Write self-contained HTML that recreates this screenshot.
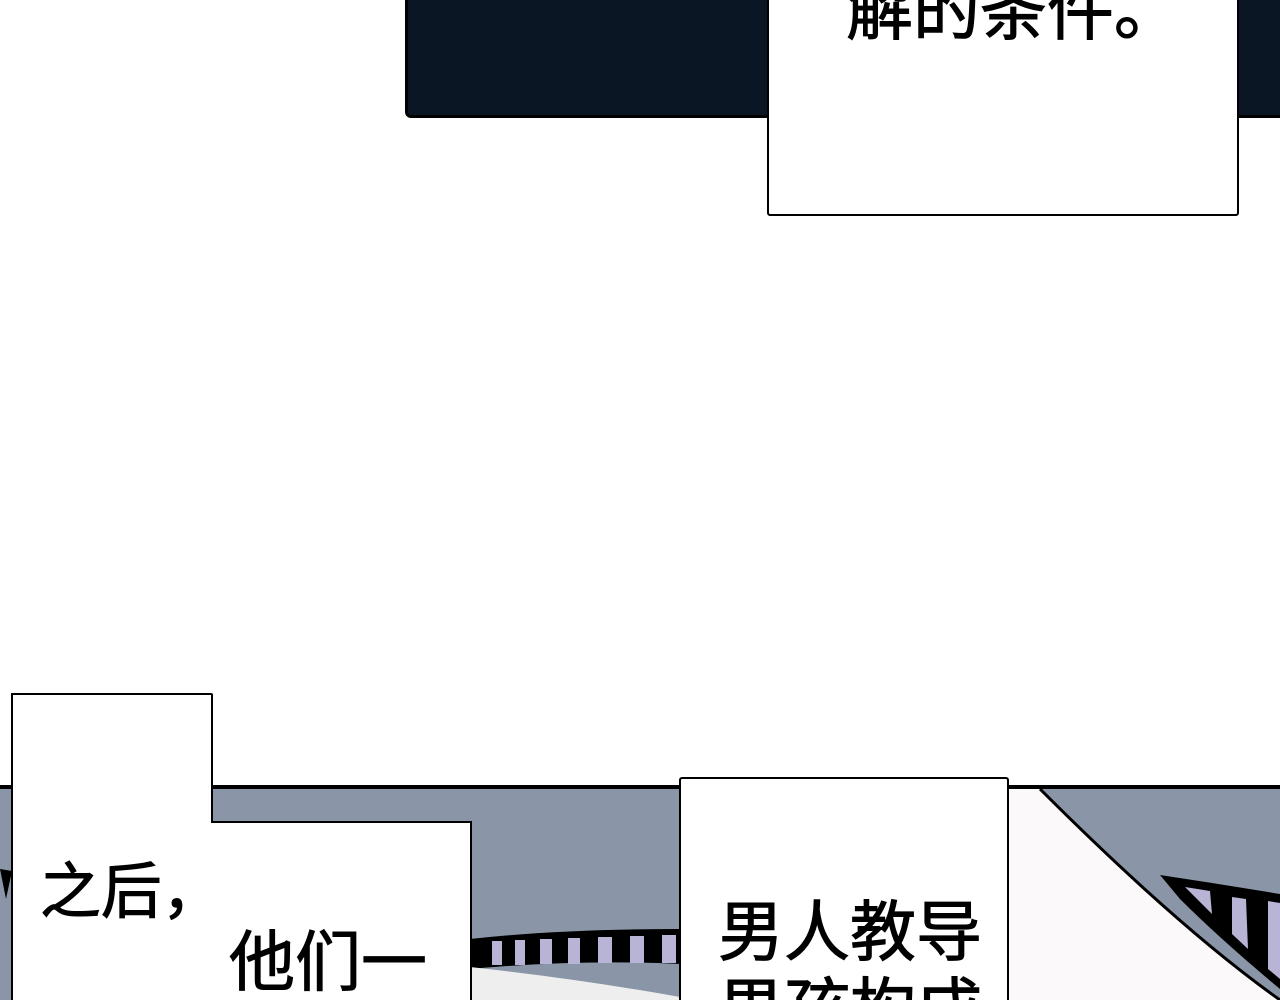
<!DOCTYPE html>
<html><head><meta charset="utf-8"><style>
html,body{margin:0;padding:0;width:1280px;height:1000px;overflow:hidden;background:#fff;position:relative}
.t{position:absolute;font-family:"Liberation Sans","Noto Sans CJK SC",sans-serif;color:#000;white-space:nowrap;line-height:1;-webkit-text-stroke:1px #000}
.box{position:absolute;background:#fff;border:2px solid #000;box-sizing:border-box}
</style></head><body>
<div style="position:absolute;left:405px;top:-10px;width:880px;height:128px;background:#0b1624;border:3px solid #000;border-radius:6px;box-sizing:border-box"></div>
<div class="box" style="left:767px;top:-10px;width:472px;height:226px;border-radius:3px"></div>
<div class="t" style="left:846px;top:-22px;font-size:62px;transform:scale(1.08,1.1);transform-origin:top left">解的条件。</div>

<div style="position:absolute;left:0;top:785px;width:1280px;height:215px;background:#8a96a8;border-top:4px solid #000"></div>
<svg style="position:absolute;left:0;top:789px" width="1280" height="211">
<path d="M470 150 Q560 140 680 140 L680 175 Q580 170 470 180 Z" fill="#000"/>
<g fill="#b8b4d6"><rect x="492" y="152" width="10" height="24"/><rect x="515" y="151" width="10" height="25"/><rect x="540" y="150" width="12" height="25"/><rect x="568" y="149" width="12" height="26"/><rect x="598" y="148" width="14" height="26"/><rect x="630" y="147" width="14" height="27"/><rect x="662" y="146" width="14" height="28"/></g>
<path d="M470 178 Q580 190 680 208 L680 211 L470 211 Z" fill="#eee"/>
<path d="M1005 0 L1040 0 Q1180 140 1280 211 L1005 211 Z" fill="#fbf9f9"/>
<path d="M1040 0 Q1180 140 1280 211" stroke="#000" stroke-width="3" fill="none"/>
<path d="M1160 86 Q1220 95 1280 105 L1280 200 Q1220 150 1180 110 Z" fill="#000"/>
<g fill="#b8b4d6"><path d="M1185 98 L1210 102 L1212 125 Z"/><path d="M1232 108 L1246 110 L1248 160 L1232 145 Z"/><path d="M1268 112 L1280 114 L1280 190 L1268 180 Z"/></g>
<path d="M0 80 L12 82 L6 110 Z" fill="#000"/>
</svg>
<div class="box" style="left:11px;top:693px;width:202px;height:320px;border-radius:2px"></div>
<div class="box" style="left:11px;top:821px;width:461px;height:200px;border-left:0"></div>
<div style="position:absolute;left:13px;top:700px;width:198px;height:300px;background:#fff"></div>
<div style="position:absolute;left:11px;top:693px;width:2px;height:310px;background:#000"></div>
<div class="t" style="left:40px;top:862px;font-size:58px;transform:scale(1.05,1.05);transform-origin:top left">之后，</div>
<div class="t" style="left:229px;top:929px;font-size:66px">他们一</div>
<div class="box" style="left:679px;top:777px;width:330px;height:240px;border-radius:3px"></div>
<div class="t" style="left:718px;top:899px;font-size:66px">男人教导</div>
<div class="t" style="left:718px;top:976px;font-size:66px">男孩构成</div>
</body></html>
